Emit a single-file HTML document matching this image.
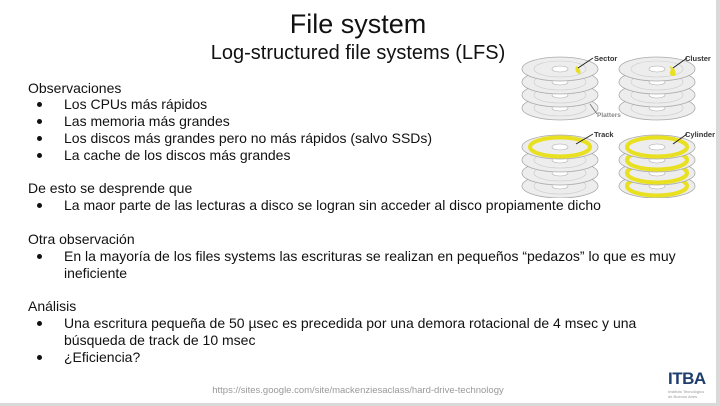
<!DOCTYPE html>
<html><head><meta charset="utf-8"><style>
body{margin:0;width:720px;height:406px;overflow:hidden;background:#fff;font-family:"Liberation Sans",sans-serif;color:#111;position:relative}
.t{position:absolute;white-space:nowrap;font-size:14px;line-height:16px}
.b{position:absolute;left:37px;width:5px;height:5px;border-radius:50%;background:#111}
</style></head><body>
<div style="position:absolute;right:0;top:0;width:4px;height:406px;background:#d9d9d9"></div>
<div style="position:absolute;left:0;bottom:0;width:720px;height:3px;background:#d9d9d9"></div>
<div class="t" style="left:0;width:716px;text-align:center;top:8px;font-size:27px;line-height:32px">File system</div>
<div class="t" style="left:0;width:716px;text-align:center;top:42px;font-size:20px;line-height:22px">Log-structured file systems (LFS)</div>

<div class="t" style="left:28px;top:80px">Observaciones</div>
<div class="b" style="top:102px"></div><div class="t" style="left:64px;top:96px">Los CPUs más rápidos</div>
<div class="b" style="top:119px"></div><div class="t" style="left:64px;top:113px">Las memoria más grandes</div>
<div class="b" style="top:136px"></div><div class="t" style="left:64px;top:130px">Los discos más grandes pero no más rápidos (salvo SSDs)</div>
<div class="b" style="top:153px"></div><div class="t" style="left:64px;top:147px">La cache de los discos más grandes</div>

<div class="t" style="left:28px;top:180px">De esto se desprende que</div>
<div class="b" style="top:203px"></div><div class="t" style="left:64px;top:197px">La maor parte de las lecturas a disco se logran sin acceder al disco propiamente dicho</div>

<div class="t" style="left:28px;top:231px">Otra observación</div>
<div class="b" style="top:254px"></div><div class="t" style="left:64px;top:248px">En la mayoría de los files systems las escrituras se realizan en pequeños “pedazos” lo que es muy</div>
<div class="t" style="left:64px;top:265px">ineficiente</div>

<div class="t" style="left:28px;top:298px">Análisis</div>
<div class="b" style="top:321px"></div><div class="t" style="left:64px;top:315px">Una escritura pequeña de 50 µsec es precedida por una demora rotacional de 4 msec y una</div>
<div class="t" style="left:64px;top:332px">búsqueda de track de 10 msec</div>
<div class="b" style="top:355px"></div><div class="t" style="left:64px;top:349px">¿Eficiencia?</div>

<div class="t" style="left:0;width:716px;text-align:center;top:385px;font-size:9.5px;line-height:12px;color:#999">https://sites.google.com/site/mackenziesaclass/hard-drive-technology</div>

<div class="t" style="left:668px;top:370px;font-size:17px;line-height:18px;font-weight:bold;color:#1d3d6e;letter-spacing:-0.5px">ITBA</div>
<div class="t" style="left:668px;top:389px;font-size:4px;line-height:5px;color:#999">Instituto Tecnológico<br>de Buenos Aires</div>

<svg style="position:absolute;left:515px;top:48px" width="200" height="150" viewBox="0 0 200 150">
<defs>
<g id="p"><ellipse cx="0" cy="0" rx="38" ry="12" fill="#ededed" stroke="#aaa" stroke-width="0.8"/><ellipse cx="0" cy="0" rx="26" ry="8" fill="none" stroke="#ccc" stroke-width="0.6"/><ellipse cx="0" cy="0" rx="8" ry="3" fill="#fff" stroke="#aaa" stroke-width="0.6"/></g>
<g id="py"><ellipse cx="0" cy="0" rx="38" ry="12" fill="#ededed" stroke="#aaa" stroke-width="0.8"/><ellipse cx="0" cy="0" rx="30" ry="9.5" fill="none" stroke="#e8e020" stroke-width="4"/><ellipse cx="0" cy="0" rx="8" ry="3" fill="#fff" stroke="#aaa" stroke-width="0.6"/></g>
</defs>
<g transform="translate(45,0)"><use href="#p" y="60"/><use href="#p" y="47"/><use href="#p" y="34"/><use href="#p" y="21"/>
<path d="M16,18 q6,4 4,8 q-6,-1 -4,-8z" fill="#e8e020"/><line x1="18" y1="20" x2="33" y2="10" stroke="#222"/></g>
<text x="79" y="13" font-size="7.5" font-weight="bold" font-family="Liberation Sans" fill="#333">Sector</text>
<text x="82" y="69" font-size="6.5" font-weight="bold" font-family="Liberation Sans" fill="#888">Platters</text>
<line x1="75" y1="56" x2="82" y2="66" stroke="#666" stroke-width="0.7"/>
<g transform="translate(142,0)"><use href="#p" y="60"/><use href="#p" y="47"/><use href="#p" y="34"/><use href="#p" y="21"/>
<path d="M12,18 q8,2 6,10 q-6,0 -5,-4 q2,-3 -1,-6z" fill="#e8e020"/><line x1="16" y1="20" x2="30" y2="10" stroke="#222"/></g>
<text x="170" y="13" font-size="7.5" font-weight="bold" font-family="Liberation Sans" fill="#333">Cluster</text>
<g transform="translate(45,0)"><use href="#p" y="138"/><use href="#p" y="125"/><use href="#p" y="112"/><use href="#py" y="99"/>
<line x1="16" y1="96" x2="33" y2="86" stroke="#222"/></g>
<text x="79" y="89" font-size="7.5" font-weight="bold" font-family="Liberation Sans" fill="#333">Track</text>
<g transform="translate(142,0)"><use href="#py" y="138"/><use href="#py" y="125"/><use href="#py" y="112"/><use href="#py" y="99"/>
<line x1="16" y1="96" x2="30" y2="86" stroke="#222"/></g>
<text x="170" y="89" font-size="7.5" font-weight="bold" font-family="Liberation Sans" fill="#333">Cylinder</text>
</svg>
</body></html>
